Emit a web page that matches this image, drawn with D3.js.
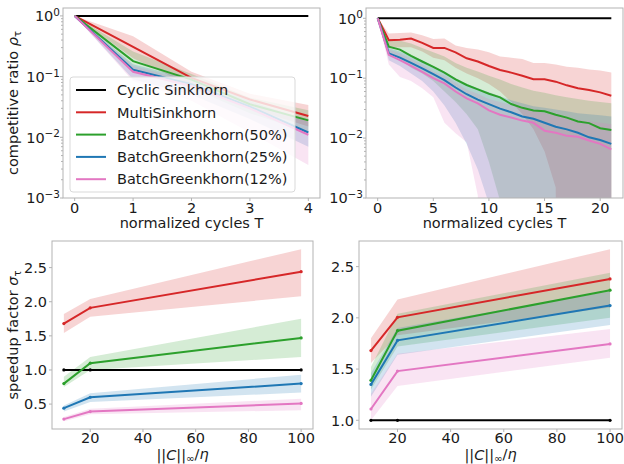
<!DOCTYPE html>
<html>
<head>
<meta charset="utf-8">
<script src="https://cdn.jsdelivr.net/npm/d3@7"></script>
<style>
  body { margin: 0; background: #fff; }
  svg { font-family: "DejaVu Sans", sans-serif; }
</style>
</head>
<body>
<div id="chart"></div>
<script>
// ---- data ----
const seriesNames = ["Cyclic Sinkhorn", "MultiSinkhorn", "BatchGreenkhorn(50%)", "BatchGreenkhorn(25%)", "BatchGreenkhorn(12%)"];
const seriesColors = ["#000000", "#d62728", "#2ca02c", "#1f77b4", "#e377c2"];

// top-left: competitive ratio vs normalized cycles (short run)
const cyclesShort = [0, 1, 2, 3, 4];
const ratioShortMean = [
  [1, 1, 1, 1, 1],
  [1, 0.31, 0.095, 0.042, 0.0224],
  [1, 0.18, 0.089, 0.035, 0.019],
  [1, 0.13, 0.075, 0.032, 0.012],
  [1, 0.12, 0.07, 0.03, 0.011]
];
const ratioShortHigh = [
  [1, 1, 1, 1, 1],
  [1, 0.46, 0.12, 0.052, 0.034],
  [1, 0.26, 0.11, 0.045, 0.028],
  [1, 0.16, 0.09, 0.04, 0.018],
  [1, 0.15, 0.085, 0.038, 0.02]
];
const ratioShortLow = [
  [1, 1, 1, 1, 1],
  [1, 0.2, 0.07, 0.03, 0.015],
  [1, 0.12, 0.065, 0.025, 0.012],
  [1, 0.09, 0.05, 0.02, 0.007],
  [1, 0.085, 0.04, 0.012, 0.0035]
];

// top-right: competitive ratio vs normalized cycles (long run)
const cyclesLong = [0, 1, 2, 3, 4, 5, 6, 7, 8, 9, 10, 11, 12, 13, 14, 15, 16, 17, 18, 19, 20, 21];
const ratioLongMean = [
  [1, 1, 1, 1, 1, 1, 1, 1, 1, 1, 1, 1, 1, 1, 1, 1, 1, 1, 1, 1, 1, 1],
  [1, 0.43, 0.44, 0.46, 0.39, 0.32, 0.32, 0.27, 0.215, 0.19, 0.16, 0.137, 0.124, 0.11, 0.096, 0.096, 0.0875, 0.076, 0.068, 0.0636, 0.058, 0.051],
  [1, 0.336, 0.30, 0.235, 0.19, 0.155, 0.124, 0.096, 0.077, 0.065, 0.055, 0.048, 0.037, 0.032, 0.029, 0.028, 0.0245, 0.022, 0.019, 0.0178, 0.0146, 0.0137],
  [1, 0.26, 0.22, 0.18, 0.146, 0.117, 0.093, 0.07, 0.054, 0.044, 0.037, 0.031, 0.027, 0.023, 0.021, 0.018, 0.0155, 0.014, 0.0123, 0.0103, 0.0093, 0.008],
  [1, 0.245, 0.20, 0.16, 0.128, 0.10, 0.082, 0.06, 0.046, 0.038, 0.029, 0.0245, 0.022, 0.0196, 0.018, 0.0133, 0.0123, 0.0109, 0.0105, 0.0091, 0.008, 0.0065]
];
const ratioLongHigh = [
  [1, 1, 1, 1, 1, 1, 1, 1, 1, 1, 1, 1, 1, 1, 1, 1, 1, 1, 1, 1, 1, 1],
  [1, 0.56, 0.57, 0.58, 0.52, 0.45, 0.46, 0.35, 0.32, 0.30, 0.27, 0.23, 0.22, 0.21, 0.18, 0.18, 0.17, 0.155, 0.15, 0.14, 0.135, 0.124],
  [1, 0.45, 0.42, 0.38, 0.32, 0.27, 0.23, 0.18, 0.15, 0.13, 0.11, 0.095, 0.08, 0.07, 0.062, 0.057, 0.052, 0.048, 0.045, 0.042, 0.04, 0.038],
  [1, 0.32, 0.28, 0.24, 0.2, 0.16, 0.13, 0.1, 0.08, 0.068, 0.058, 0.05, 0.043, 0.038, 0.034, 0.032, 0.03, 0.028, 0.026, 0.025, 0.024, 0.023],
  [1, 0.3, 0.26, 0.21, 0.17, 0.13, 0.11, 0.085, 0.065, 0.055, 0.045, 0.04, 0.036, 0.032, 0.029, 0.026, 0.024, 0.022, 0.02, 0.019, 0.018, 0.017]
];
const ratioLongLow = [
  [1, 1, 1, 1, 1, 1, 1, 1, 1, 1, 1, 1, 1, 1, 1, 1, 1, 1, 1, 1, 1, 1],
  [1, 0.32, 0.33, 0.33, 0.28, 0.22, 0.2, 0.15, 0.12, 0.1, 0.08, 0.06, 0.04, 0.025, 0.014, 0.006, 0.0015, 0, 0, 0, 0, 0],
  [1, 0.25, 0.21, 0.15, 0.12, 0.09, 0.06, 0.04, 0.025, 0.014, 0.004, 0.0009, 0, 0, 0, 0, 0, 0, 0, 0, 0, 0],
  [1, 0.2, 0.16, 0.12, 0.09, 0.06, 0.035, 0.018, 0.008, 0.003, 0.0008, 0, 0, 0, 0, 0, 0, 0, 0, 0, 0, 0],
  [1, 0.17, 0.105, 0.09, 0.068, 0.048, 0.018, 0.012, 0.0085, 0.0011, 0, 0, 0, 0, 0, 0, 0, 0, 0, 0, 0, 0]
];

// bottom: speedup factor vs ||C||/eta
const costRatio = [10, 20, 100];
const speedLeftMean = [[1, 1, 1], [1.68, 1.91, 2.44], [0.80, 1.10, 1.47], [0.44, 0.60, 0.80], [0.28, 0.39, 0.51]];
const speedLeftHigh = [[1, 1, 1], [1.82, 2.04, 2.77], [0.90, 1.19, 1.75], [0.48, 0.66, 0.93], [0.31, 0.43, 0.58]];
const speedLeftLow  = [[1, 1, 1], [1.54, 1.78, 2.08], [0.75, 1.00, 1.19], [0.39, 0.53, 0.67], [0.25, 0.35, 0.41]];
const speedRightMean = [[1, 1, 1], [1.68, 2.005, 2.38], [1.39, 1.875, 2.27], [1.35, 1.78, 2.12], [1.11, 1.48, 1.745]];
const speedRightHigh = [[1, 1, 1], [1.80, 2.18, 2.67], [1.52, 2.04, 2.44], [1.46, 1.90, 2.26], [1.26, 1.65, 1.89]];
const speedRightLow  = [[1, 1, 1], [1.56, 1.83, 2.10], [1.30, 1.72, 2.00], [1.23, 1.64, 1.93], [1.00, 1.335, 1.61]];

const ticksShort = [0, 1, 2, 3, 4];
const ticksLong = [0, 5, 10, 15, 20];
const ticksCost = [20, 40, 60, 80, 100];
const ticksLogY = [1, 0.1, 0.01, 0.001];
const ticksSpeedLeft = [0.5, 1.0, 1.5, 2.0, 2.5];
const ticksSpeedRight = [1.0, 1.5, 2.0, 2.5];

// ---- drawing ----
const W = 624, H = 464;
const svg = d3.select("#chart").append("svg")
  .attr("width", W).attr("height", H);

const spineColor = "#b3b3b3";
const fontSize = 14.5;

function superscriptLabel(sel, v) {
  const e = Math.round(Math.log10(v));
  sel.text("10");
  sel.append("tspan")
    .attr("dy", "-0.5em")
    .attr("font-size", "72%")
    .text(e < 0 ? "\u2212" + (-e) : String(e));
}

function drawPanel(p, id) {
  const g = svg.append("g");
  const clipId = "clip-" + id;
  svg.append("clipPath").attr("id", clipId)
    .append("rect")
    .attr("x", p.left).attr("y", p.top)
    .attr("width", p.right - p.left).attr("height", p.bottom - p.top);

  const x = d3.scaleLinear().domain(p.xDomain).range([p.left, p.right]);
  const y = (p.log ? d3.scaleLog() : d3.scaleLinear()).domain(p.yDomain).range([p.bottom, p.top]);
  // nonpositive values are clipped far below the axis, like a log plot does
  const yv = v => p.log ? y(v > 0 ? v : 1e-30) : y(v);

  const plot = g.append("g").attr("clip-path", `url(#${clipId})`);

  // bands first
  p.mean.forEach((s, i) => {
    if (i === 0) return;
    const area = d3.area()
      .x((d, j) => x(p.xs[j]))
      .y0((d, j) => yv(p.low[i][j]))
      .y1((d, j) => yv(p.high[i][j]));
    plot.append("path")
      .datum(s)
      .attr("fill", seriesColors[i])
      .attr("fill-opacity", 0.2)
      .attr("stroke", "none")
      .attr("d", area);
  });

  // lines
  [0, 1, 2, 3, 4].forEach(i => {
    const line = d3.line()
      .x((d, j) => x(p.xs[j]))
      .y(d => yv(d));
    plot.append("path")
      .datum(p.mean[i])
      .attr("fill", "none")
      .attr("stroke", seriesColors[i])
      .attr("stroke-width", 2)
      .attr("d", line);
    if (p.markers) {
      plot.append("g").selectAll("circle")
        .data(p.mean[i])
        .enter().append("circle")
        .attr("cx", (d, j) => x(p.xs[j]))
        .attr("cy", d => yv(d))
        .attr("r", 1.6)
        .attr("fill", seriesColors[i]);
    }
  });

  // frame
  g.append("rect")
    .attr("x", p.left).attr("y", p.top)
    .attr("width", p.right - p.left).attr("height", p.bottom - p.top)
    .attr("fill", "none")
    .attr("stroke", spineColor)
    .attr("stroke-width", 1);

  // x ticks
  p.xTicks.forEach(t => {
    g.append("line")
      .attr("x1", x(t)).attr("x2", x(t))
      .attr("y1", p.bottom).attr("y2", p.bottom + 3)
      .attr("stroke", spineColor);
    g.append("text")
      .attr("x", x(t)).attr("y", p.bottom + p.tickBase)
      .attr("text-anchor", "middle")
      .attr("font-size", fontSize)
      .attr("fill", "#1a1a1a")
      .text(t);
  });

  // y ticks
  p.yTicks.forEach(t => {
    g.append("line")
      .attr("x1", p.left - 3).attr("x2", p.left)
      .attr("y1", y(t)).attr("y2", y(t))
      .attr("stroke", spineColor);
    const lbl = g.append("text")
      .attr("x", p.left - 5).attr("y", y(t))
      .attr("dy", "0.36em")
      .attr("text-anchor", "end")
      .attr("font-size", fontSize)
      .attr("fill", "#1a1a1a");
    if (p.log) {
      superscriptLabel(lbl, t);
      lbl.attr("text-anchor", "start");
      const w = lbl.node().getComputedTextLength();
      lbl.attr("x", p.left - 3 - w);
    } else {
      lbl.text(t.toFixed(1));
    }
  });

  // minor log ticks
  if (p.log) {
    ticksLogY.slice(1).forEach(dec => {
      [2, 3, 4, 5, 6, 7, 8, 9].forEach(m => {
        const v = dec * m;
        if (v > p.yDomain[1]) return;
        g.append("line")
          .attr("x1", p.left - 2).attr("x2", p.left)
          .attr("y1", y(v)).attr("y2", y(v))
          .attr("stroke", spineColor);
      });
    });
  }

  // x label
  const xl = g.append("text")
    .attr("x", (p.left + p.right) / 2)
    .attr("y", p.xLabelY)
    .attr("text-anchor", "middle")
    .attr("font-size", fontSize)
    .attr("fill", "#1a1a1a");
  p.xLabel(xl);

  if (p.yLabel) {
    const yl = g.append("text")
      .attr("transform", `translate(${p.yLabelX},${(p.top + p.bottom) / 2}) rotate(-90)`)
      .attr("text-anchor", "middle")
      .attr("font-size", fontSize)
      .attr("fill", "#1a1a1a");
    p.yLabel(yl);
  }
  return { x, y, g };
}

const cyclesLabel = t => t.text("normalized cycles T");
const costLabel = t => {
  t.append("tspan").text("||");
  t.append("tspan").attr("font-style", "italic").text("C");
  t.append("tspan").text("||");
  t.append("tspan").attr("font-size", "70%").attr("dy", "0.2em").text("\u221e");
  t.append("tspan").attr("dy", "-0.2em").text("/");
  t.append("tspan").attr("font-style", "italic").text("\u03b7");
};

const topLeft = drawPanel({
  left: 63, right: 320, top: 8, bottom: 198,
  xDomain: [-0.2, 4.2], yDomain: [1e-3, Math.pow(10, 0.13)], log: true,
  xs: cyclesShort, mean: ratioShortMean, high: ratioShortHigh, low: ratioShortLow,
  xTicks: ticksShort, yTicks: ticksLogY, tickBase: 15,
  xLabelY: 228, xLabel: cyclesLabel,
  yLabelX: 18,
  yLabel: t => {
    t.append("tspan").text("competitive ratio ");
    t.append("tspan").attr("font-style", "italic").text("\u03c1");
    t.append("tspan").attr("font-size", "70%").attr("dy", "0.3em").text("\u03c4");
  }
}, "tl");

drawPanel({
  left: 366, right: 623, top: 8, bottom: 198,
  xDomain: [-1.05, 22.05], yDomain: [1e-3, Math.pow(10, 0.172)], log: true,
  xs: cyclesLong, mean: ratioLongMean, high: ratioLongHigh, low: ratioLongLow,
  xTicks: ticksLong, yTicks: ticksLogY, tickBase: 15,
  xLabelY: 228, xLabel: cyclesLabel
}, "tr");

drawPanel({
  left: 52, right: 313, top: 241, bottom: 429,
  xDomain: [5.5, 104.5], yDomain: [0.135, 2.89], log: false, markers: true,
  xs: costRatio, mean: speedLeftMean, high: speedLeftHigh, low: speedLeftLow,
  xTicks: ticksCost, yTicks: ticksSpeedLeft, tickBase: 14,
  xLabelY: 460, xLabel: costLabel,
  yLabelX: 18,
  yLabel: t => {
    t.append("tspan").text("speedup factor ");
    t.append("tspan").attr("font-style", "italic").text("\u03c3");
    t.append("tspan").attr("font-size", "70%").attr("dy", "0.3em").text("\u03c4");
  }
}, "bl");

drawPanel({
  left: 359, right: 622, top: 241, bottom: 429,
  xDomain: [5.5, 104.5], yDomain: [0.915, 2.75], log: false, markers: true,
  xs: costRatio, mean: speedRightMean, high: speedRightHigh, low: speedRightLow,
  xTicks: ticksCost, yTicks: ticksSpeedRight, tickBase: 14,
  xLabelY: 460, xLabel: costLabel
}, "br");

// legend in the top-left panel
const legend = topLeft.g.append("g");
legend.append("rect")
  .attr("x", 70).attr("y", 77)
  .attr("width", 225).attr("height", 115)
  .attr("rx", 3)
  .attr("fill", "#fff").attr("fill-opacity", 0.8)
  .attr("stroke", "#d9d9d9");
seriesNames.forEach((name, i) => {
  const ly = 90 + i * 22.3;
  legend.append("line")
    .attr("x1", 76).attr("x2", 106)
    .attr("y1", ly).attr("y2", ly)
    .attr("stroke", seriesColors[i])
    .attr("stroke-width", 2);
  legend.append("text")
    .attr("x", 117).attr("y", ly)
    .attr("dy", "0.36em")
    .attr("font-size", fontSize)
    .attr("fill", "#1a1a1a")
    .text(name);
});
</script>
</body>
</html>
